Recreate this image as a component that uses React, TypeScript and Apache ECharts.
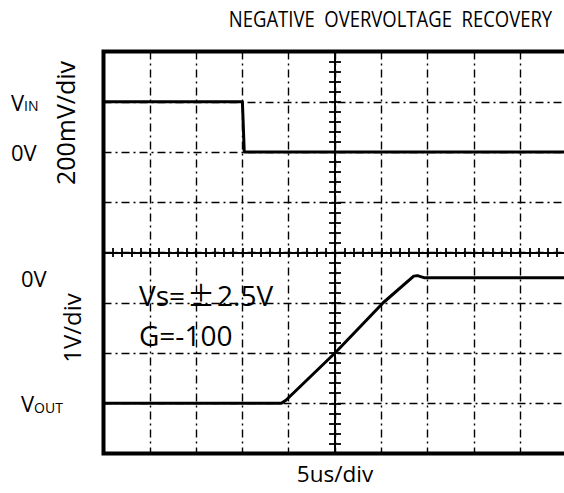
import { useEffect, useRef } from "react";
import * as echarts from "echarts";

// ---- data ----
const TIME_MIN = -25; // us, 5 us/div, 10 divisions
const TIME_MAX = 25;
const TIME_STEP = 5;
const DIV_MIN = -4; // graticule, 8 vertical divisions
const DIV_MAX = 4;
const VIN_MIN = -400; // mV, 200 mV/div (upper half)
const VIN_MAX = 400;
const VIN_STEP = 200;
const VOUT_MIN = -3.5; // V, 1 V/div (lower half)
const VOUT_MAX = 0.5;
const VOUT_STEP = 1;

const vinTime = [-25, -10, -9.8, 25];
const vinMv = [200, 200, 0, 0];

const voutTime = [-25, -5.8, -5.3, 0, 5.2, 8.5, 8.9, 9.6, 25];
const voutV = [-2.5, -2.5, -2.44, -1.5, -0.5, 0.03, 0.04, 0, 0];

const vinLabelValues = [200, 0];
const vinLabelTexts = ["{v|V}{s|IN}", "{n|0V}"];
const voutLabelValues = [0, -2.5];
const voutLabelTexts = ["{n|0V}", "{v|V}{s|OUT}"];

const TITLE = "NEGATIVE  OVERVOLTAGE  RECOVERY";
const X_NAME = "5us/div";
const VIN_SCALE = "200mV/div";
const VOUT_SCALE = "1V/div";
const NOTE_SUPPLY = ["Vs=", "±", "2.5V"];
const NOTE_GAIN = "G=-100";

const FONT = "'Open Sans', 'Noto Sans', sans-serif";
const CJK = "'Noto Sans CJK JP', 'Noto Sans CJK SC', sans-serif";
const BLACK = "#000";
const DASH_DOT = [8, 4, 2, 4];

const GL = 103.5;
const GW = 463;
const GT = 51.5;
const GH = 402;

function hiddenAxis(extra: any) {
  return {
    type: "value",
    axisLine: { show: false, onZero: false },
    axisTick: { show: false },
    minorTick: { show: false },
    axisLabel: { show: false },
    splitLine: { show: false },
    minorSplitLine: { show: false },
    ...extra,
  };
}

const labelRich = {
  v: { fontSize: 22, lineHeight: 22, fontFamily: FONT, color: BLACK, verticalAlign: "bottom" },
  s: { fontSize: 14, lineHeight: 14, fontFamily: FONT, color: BLACK, verticalAlign: "bottom" },
  n: { fontSize: 22, lineHeight: 22, fontFamily: FONT, color: BLACK, verticalAlign: "bottom" },
};

function buildOption() {
  const tickStyle = { color: BLACK, width: 1.8 };
  const centerX = (position: string, split: boolean) => ({
    type: "value",
    gridIndex: 0,
    min: TIME_MIN,
    max: TIME_MAX,
    interval: TIME_STEP,
    position,
    axisLine: { show: true, onZero: true, lineStyle: { color: BLACK, width: 2 } },
    axisTick: { show: true, length: 4.5, lineStyle: tickStyle },
    minorTick: { show: true, splitNumber: 5, length: 4.5, lineStyle: tickStyle },
    axisLabel: { show: false },
    splitLine: { show: split, lineStyle: { color: BLACK, width: 1.4, type: DASH_DOT } },
  });
  const centerY = (position: string, split: boolean) => ({
    type: "value",
    gridIndex: 0,
    min: DIV_MIN,
    max: DIV_MAX,
    interval: 1,
    position,
    axisLine: { show: true, onZero: true, lineStyle: { color: BLACK, width: 2 } },
    axisTick: { show: true, length: 6, lineStyle: tickStyle },
    minorTick: { show: true, splitNumber: 5, length: 6, lineStyle: tickStyle },
    axisLabel: { show: false },
    splitLine: { show: split, lineStyle: { color: BLACK, width: 1.4, type: DASH_DOT } },
  });

  return {
    animation: false,
    backgroundColor: "#fff",
    grid: [
      {
        left: GL, top: GT, width: GW, height: GH,
        show: true, borderColor: BLACK, borderWidth: 4, backgroundColor: "transparent",
        containLabel: false, outerBoundsMode: "none",
      },
      { left: GL, top: GT, width: GW, height: GH / 2, containLabel: false, outerBoundsMode: "none" },
      { left: GL, top: GT + GH / 2, width: GW, height: GH / 2, containLabel: false, outerBoundsMode: "none" },
    ],
    xAxis: [
      centerX("bottom", true),
      centerX("top", false),
      hiddenAxis({ gridIndex: 1, min: TIME_MIN, max: TIME_MAX, interval: TIME_STEP }),
      hiddenAxis({
        gridIndex: 2, min: TIME_MIN, max: TIME_MAX, interval: TIME_STEP, position: "bottom",
        name: X_NAME, nameLocation: "middle", nameGap: 8,
        nameTextStyle: { fontSize: 22.5, fontFamily: FONT, color: BLACK, verticalAlign: "top" },
      }),
    ],
    yAxis: [
      centerY("left", true),
      centerY("right", false),
      hiddenAxis({
        gridIndex: 1, min: VIN_MIN, max: VIN_MAX, interval: VIN_STEP, position: "left",
        axisLabel: {
          show: true, customValues: vinLabelValues, align: "left", margin: GL - 11,
          formatter: (v: number) => { const i = vinLabelValues.indexOf(v); return i >= 0 ? vinLabelTexts[i] : ""; },
          rich: labelRich,
        },
      }),
      hiddenAxis({
        gridIndex: 2, min: VOUT_MIN, max: VOUT_MAX, interval: VOUT_STEP, position: "left",
        axisLabel: {
          show: true, customValues: voutLabelValues, align: "left", margin: GL - 21,
          formatter: (v: number) => { const i = voutLabelValues.indexOf(v); return i >= 0 ? voutLabelTexts[i] : ""; },
          rich: labelRich,
        },
      }),
    ],
    series: [
      {
        name: "VIN", type: "line", xAxisIndex: 2, yAxisIndex: 2, symbol: "none",
        data: vinTime.map((t, i) => [t, vinMv[i]]),
        lineStyle: { color: BLACK, width: 3, join: "round" }, z: 5,
      },
      {
        name: "VOUT", type: "line", xAxisIndex: 3, yAxisIndex: 3, symbol: "none",
        data: voutTime.map((t, i) => [t, voutV[i]]),
        lineStyle: { color: BLACK, width: 3, join: "round" }, z: 5,
      },
    ],
    graphic: [
      {
        type: "text", x: 390.5, y: 19, scaleX: 0.88,
        style: { text: TITLE, fontSize: 21, fontFamily: FONT, fill: BLACK, align: "center", verticalAlign: "middle" },
      },
      {
        type: "text", x: 65, y: 123, rotation: Math.PI / 2,
        style: { text: VIN_SCALE, fontSize: 25, fontFamily: FONT, fill: BLACK, align: "center", verticalAlign: "middle" },
      },
      {
        type: "text", x: 71.5, y: 328, rotation: Math.PI / 2,
        style: { text: VOUT_SCALE, fontSize: 24, fontFamily: FONT, fill: BLACK, align: "center", verticalAlign: "middle" },
      },
      {
        type: "text", x: 139, y: 294.5,
        style: {
          text: `{a|${NOTE_SUPPLY[0]}}{pm|${NOTE_SUPPLY[1]}}{a|${NOTE_SUPPLY[2]}}`,
          align: "left", verticalAlign: "middle",
          rich: {
            a: { fontSize: 28, fontFamily: FONT, fill: BLACK },
            pm: { fontSize: 28, fontFamily: CJK, fill: BLACK, padding: [0, 2, 0, 2] },
          },
        },
      },
      {
        type: "text", x: 139, y: 334.5,
        style: { text: NOTE_GAIN, fontSize: 28, fontFamily: FONT, fill: BLACK, align: "left", verticalAlign: "middle" },
      },
    ],
  };
}

export default function App() {
  const ref = useRef<HTMLDivElement>(null);
  useEffect(() => {
    if (!ref.current) return;
    const chart = echarts.init(ref.current, null, { renderer: "svg", width: 564, height: 493 });
    chart.setOption(buildOption() as any);
    return () => chart.dispose();
  }, []);
  return <div ref={ref} style={{ position: "absolute", left: 0, top: 0, width: 564, height: 493 }} />;
}
